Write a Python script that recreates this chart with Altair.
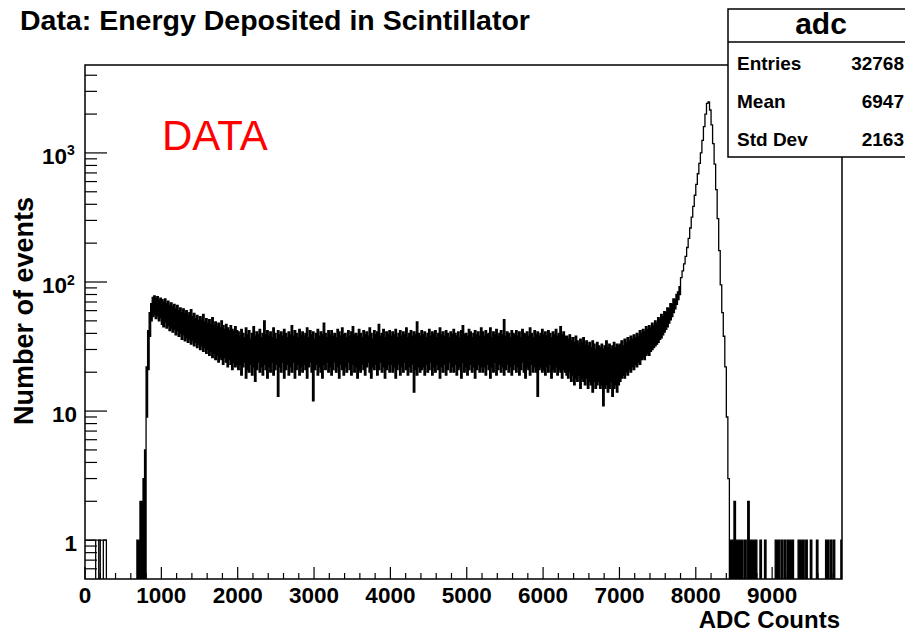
import altair as alt
import pandas as pd

# ---------------- data ----------------
# ADC axis is read in 20-count slices; for each slice the upper (hi) and lower (lo)
# edge of the drawn histogram band is given (0 = empty slice, drawn down to the frame).
SLICE = 20
X_MAX = 9915

# 0 - 780 : isolated low counts and the start of the rising edge
head_hi = [1, 1, 1, 1, 1, 1, 1, 0, 0, 1, 0, 0, 1, 1, 0, 0, 0, 0, 0, 0,
           0, 0, 0, 0, 0, 0, 0, 0, 0, 0, 0, 0, 0, 0, 1, 1, 2, 2, 3, 5]
head_lo = [1, 1, 1, 1, 1, 1, 1, 0, 0, 1, 0, 0, 1, 1, 0, 0, 0, 0, 0, 0,
           0, 0, 0, 0, 0, 0, 0, 0, 0, 0, 0, 0, 0, 0, 0, 0, 0, 0, 0, 0]

# 800 - 980 : rising edge and low-energy bump
edge_hi = [22, 42, 58, 68, 76, 78, 74, 77, 72, 75]
edge_lo = [9, 21, 38, 50, 54, 56, 52, 55, 50, 53]

# 1000 - 1980 : decaying bump
bump_hi = [73, 70, 74, 68, 71, 66, 69, 64, 67, 62, 66, 60, 63, 58, 62, 57, 60, 55, 58, 61,
           54, 57, 52, 55, 50, 54, 51, 56, 49, 52, 48, 51, 47, 53, 46, 49, 45, 48, 44, 50,
           46, 43, 47, 44, 42, 46, 43, 41, 45, 42]
bump_lo = [47, 45, 49, 44, 46, 42, 44, 41, 43, 39, 42, 38, 40, 36, 39, 35, 37, 34, 36, 33,
           35, 32, 34, 31, 33, 30, 32, 29, 31, 28, 30, 27, 29, 26, 28, 25, 27, 24, 26, 25,
           23, 26, 24, 22, 25, 23, 21, 24, 22, 23]

# 2000 - 6280 : flat plateau
plat_hi = [41, 38, 43, 40, 37, 44, 39, 42, 36, 40, 45, 38, 41, 39, 43, 37, 40, 50, 39, 42,
           38, 41, 37, 44, 40, 36, 42, 39, 41, 38, 43, 40, 37, 41, 39, 46, 38, 42, 40, 37,
           43, 39, 41, 38, 40, 44, 37, 42, 39, 41, 36, 40, 43, 38, 41, 39, 48, 40, 37, 42,
           39, 42, 38, 40, 37, 43, 41, 38, 44, 39, 40, 37, 42, 38, 41, 45, 39, 40, 38, 43,
           40, 37, 42, 39, 41, 38, 44, 40, 36, 42, 39, 41, 47, 38, 40, 43, 37, 41, 39, 42,
           38, 41, 39, 43, 37, 40, 42, 38, 41, 39, 44, 37, 40, 42, 38, 41, 39, 49, 40, 38,
           42, 39, 41, 37, 40, 43, 38, 41, 39, 42, 37, 40, 44, 39, 41, 38, 42, 40, 37, 41,
           39, 43, 40, 38, 41, 37, 42, 46, 39, 40, 38, 43, 41, 37, 40, 42, 39, 41, 38, 44,
           41, 38, 42, 39, 40, 44, 37, 41, 39, 43, 38, 40, 42, 39, 51, 38, 41, 40, 37, 42,
           40, 39, 42, 38, 41, 37, 43, 40, 39, 41, 38, 44, 40, 37, 42, 39, 41, 38, 40, 43,
           39, 41, 38, 42, 40, 37, 41, 39, 43, 38, 40, 45, 39, 41, 38]
plat_lo = [21, 23, 19, 22, 24, 18, 21, 20, 23, 19, 22, 17, 21, 24, 20, 22, 19, 23, 21, 18,
           22, 20, 24, 19, 21, 23, 13, 22, 20, 24, 18, 21, 23, 19, 22, 20, 24, 18, 21, 23,
           19, 22, 20, 23, 21, 18, 22, 24, 20, 12, 21, 23, 19, 22, 20, 18, 23, 21, 24, 20,
           22, 19, 21, 24, 20, 22, 18, 23, 21, 19, 22, 20, 24, 21, 19, 23, 20, 22, 18, 21,
           20, 23, 21, 19, 22, 24, 20, 18, 22, 21, 23, 19, 21, 24, 20, 22, 18, 21, 23, 20,
           23, 20, 22, 18, 21, 23, 19, 22, 20, 24, 21, 19, 22, 20, 23, 14, 21, 19, 22, 20,
           21, 22, 19, 23, 20, 21, 24, 19, 22, 20, 23, 21, 18, 22, 20, 23, 19, 21, 24, 20,
           22, 20, 23, 19, 21, 22, 18, 24, 20, 22, 19, 21, 23, 20, 22, 18, 21, 23, 20, 22,
           20, 22, 19, 23, 21, 18, 22, 20, 24, 19, 21, 23, 20, 22, 19, 21, 23, 20, 22, 19,
           21, 23, 20, 22, 19, 21, 24, 20, 18, 22, 21, 19, 23, 20, 22, 20, 13, 21, 22, 20,
           21, 19, 22, 20, 23, 18, 21, 20, 22, 19, 21, 20, 18, 21, 20]

# 6300 - 6980 : dip before the peak
dip_hi = [38, 36, 39, 35, 37, 34, 38, 35, 33, 36, 34, 37, 33, 35, 32, 34, 31, 35, 33, 30,
          34, 32, 31, 33, 30, 32, 35, 31, 33, 30, 32, 34, 31, 33, 32]
dip_lo = [19, 18, 20, 17, 19, 16, 18, 17, 19, 15, 18, 17, 16, 18, 15, 17, 16, 14, 17, 15,
          16, 17, 15, 16, 11, 15, 16, 14, 15, 17, 13, 15, 16, 14, 16]

# 7000 - 7780 : noisy rise
rise_hi = [33, 35, 32, 36, 34, 37, 35, 38, 36, 39, 37, 40, 38, 42, 40, 43, 41, 45, 43, 46,
           44, 48, 46, 50, 48, 53, 51, 56, 54, 59, 58, 63, 62, 68, 67, 74, 73, 80, 84, 92]
rise_lo = [17, 18, 19, 18, 20, 19, 21, 20, 22, 21, 23, 22, 24, 23, 25, 26, 25, 27, 28, 27,
           29, 30, 31, 32, 33, 34, 36, 37, 39, 41, 43, 45, 48, 51, 54, 58, 62, 67, 73, 80]

# 7800 - 8420 : smooth full-energy peak (single line)
peak = [108, 122, 138, 158, 185, 218, 262, 318, 385, 470, 570, 690, 830, 1000, 1250, 1600,
        2000, 2420, 2480, 2150, 1650, 1180, 820, 520, 310, 175, 95, 58, 38, 22, 9, 3]

# 8440 - 9900 : sparse counts above the peak (drawn down to the frame)
tail_hi = [1, 1, 1, 2, 1, 1, 1, 1, 1, 0, 1, 0, 2, 1, 1, 1, 1, 1, 0, 0,
           1, 0, 0, 1, 0, 0, 0, 0, 0, 0, 1, 1, 1, 0, 1, 0, 1, 0, 1, 1,
           1, 1, 0, 0, 0, 1, 1, 1, 1, 0, 1, 0, 0, 1, 0, 0, 0, 1, 0, 0,
           0, 0, 0, 1, 1, 0, 1, 0, 1, 0, 0, 0, 0, 1]

# axis ticks / labels
x_labels = [0, 1000, 2000, 3000, 4000, 5000, 6000, 7000, 8000, 9000]
x_minor = [200, 400, 600, 800, 1200, 1400, 1600, 1800, 2200, 2400, 2600, 2800,
           3200, 3400, 3600, 3800, 4200, 4400, 4600, 4800, 5200, 5400, 5600, 5800,
           6200, 6400, 6600, 6800, 7200, 7400, 7600, 7800, 8200, 8400, 8600, 8800,
           9200, 9400, 9600, 9800]
y_major = [1, 10, 100, 1000]
y_minor = [0.6, 0.7, 0.8, 0.9, 2, 3, 4, 5, 6, 7, 8, 9, 20, 30, 40, 50, 60, 70, 80, 90,
           200, 300, 400, 500, 600, 700, 800, 900, 2000, 3000, 4000]
y_plain_labels = ["1", "10"]
y_power_labels = ["10", "10"]
y_power_exps = ["2", "3"]

stats_names = ["Entries", "Mean", "Std Dev"]
stats_values = ["32768", "6947", "2163"]

# ---------------- build the band table ----------------
hi = head_hi + edge_hi + bump_hi + plat_hi + dip_hi + rise_hi + peak + tail_hi
lo = head_lo + edge_lo + bump_lo + plat_lo + dip_lo + rise_lo + peak + [0] * len(tail_hi)
hi = [v if v > 0 else 0.1 for v in hi]
lo = [v if v > 0 else 0.1 for v in lo]
adc = [i * SLICE for i in range(len(hi))]
band = pd.DataFrame({"adc": adc + [len(hi) * SLICE], "hi": hi + [hi[-1]], "lo": lo + [lo[-1]]})

W, H = 757, 514
FONT = "Liberation Sans"

xscale = alt.Scale(domain=[0, X_MAX], nice=False, zero=False)
yscale = alt.Scale(type="log", domain=[0.5, 4800], nice=False)

hist = alt.Chart(band).mark_area(
    interpolate="step-after", fill="black", stroke="black", strokeWidth=1.3,
    opacity=1, fillOpacity=1, strokeOpacity=1, clip=True
).encode(
    x=alt.X("adc:Q", scale=xscale, axis=None),
    y=alt.Y("hi:Q", scale=yscale, axis=None),
    y2="lo:Q",
)

def rule_y(vals, length):
    return alt.Chart(pd.DataFrame({"v": vals})).mark_rule(color="black", strokeWidth=1.2).encode(
        y=alt.Y("v:Q", scale=yscale, axis=None), x=alt.value(0), x2=alt.value(length))

def rule_x(vals, length):
    return alt.Chart(pd.DataFrame({"v": vals})).mark_rule(color="black", strokeWidth=1.2).encode(
        x=alt.X("v:Q", scale=xscale, axis=None), y=alt.value(H), y2=alt.value(H - length))

bold = dict(font=FONT, fontWeight="bold", color="black")

# x tick labels
xlab = alt.Chart(pd.DataFrame({"v": x_labels, "t": [str(v) for v in x_labels]})).mark_text(
    fontSize=22.5, align="center", baseline="alphabetic", **bold
).encode(x=alt.X("v:Q", scale=xscale, axis=None), y=alt.value(538), text="t:N")

# y tick labels
ylab1 = alt.Chart(pd.DataFrame({"v": y_major[:2], "t": y_plain_labels})).mark_text(
    fontSize=22.5, align="right", baseline="alphabetic", dy=11, **bold
).encode(y=alt.Y("v:Q", scale=yscale, axis=None), x=alt.value(-8), text="t:N")
ylab2 = alt.Chart(pd.DataFrame({"v": y_major[2:], "t": y_power_labels})).mark_text(
    fontSize=22.5, align="right", baseline="alphabetic", dy=11, **bold
).encode(y=alt.Y("v:Q", scale=yscale, axis=None), x=alt.value(-18), text="t:N")
ysup = alt.Chart(pd.DataFrame({"v": y_major[2:], "t": y_power_exps})).mark_text(
    fontSize=14, align="left", baseline="alphabetic", dy=2.5, **bold
).encode(y=alt.Y("v:Q", scale=yscale, axis=None), x=alt.value(-18), text="t:N")

def text_at(txt, x, y, size, align="left", angle=0, baseline="alphabetic", weight="bold", color="black"):
    kw = dict(font=FONT, fontWeight=weight, fontSize=size, align=align, baseline=baseline, color=color)
    if angle:
        kw["angle"] = angle
    return alt.Chart(pd.DataFrame({"t": [txt]})).mark_text(**kw).encode(
        text="t:N", x=alt.value(x), y=alt.value(y))

xtitle = text_at("ADC Counts", W - 2, 563, 24, align="right")
ytitle = text_at("Number of events", -60, 132, 27, align="right", angle=270, baseline="middle")
title = text_at("Data: Energy Deposited in Scintillator", -65, -35, 28.5)
data_lbl = text_at("DATA", 77, 85, 42, weight="normal", color="#ff0000")

one = pd.DataFrame({"t": ["adc"]})
box = alt.Chart(one).mark_rect(fill="white", stroke="black", strokeWidth=1.5).encode(
    x=alt.value(643), x2=alt.value(840), y=alt.value(-56), y2=alt.value(92))
divider = alt.Chart(one).mark_rule(color="black", strokeWidth=1.5).encode(
    x=alt.value(643), x2=alt.value(840), y=alt.value(-23))
box_title = text_at("adc", 736, -31, 30, align="center")

stat_layers = []
for k, (nm, vl) in enumerate(zip(stats_names, stats_values)):
    yy = 5 + 38 * k
    stat_layers.append(text_at(nm, 652, yy, 19))
    stat_layers.append(text_at(vl, 819, yy, 19, align="right"))

chart = alt.layer(
    hist,
    rule_y(y_major, 22), rule_y(y_minor, 12), rule_x(x_labels, 12), rule_x(x_minor, 6),
    xlab, ylab1, ylab2, ysup, xtitle, ytitle, title, data_lbl,
    box, divider, box_title, *stat_layers
).properties(
    width=W, height=H, autosize=alt.AutoSizeParams(type="none"),
    padding={"left": 77, "top": 57, "right": 63, "bottom": 53},
    background="white",
).configure_view(stroke="black", strokeWidth=1.5)

chart.save("out.html", embed_options={"renderer": "svg", "actions": False})
